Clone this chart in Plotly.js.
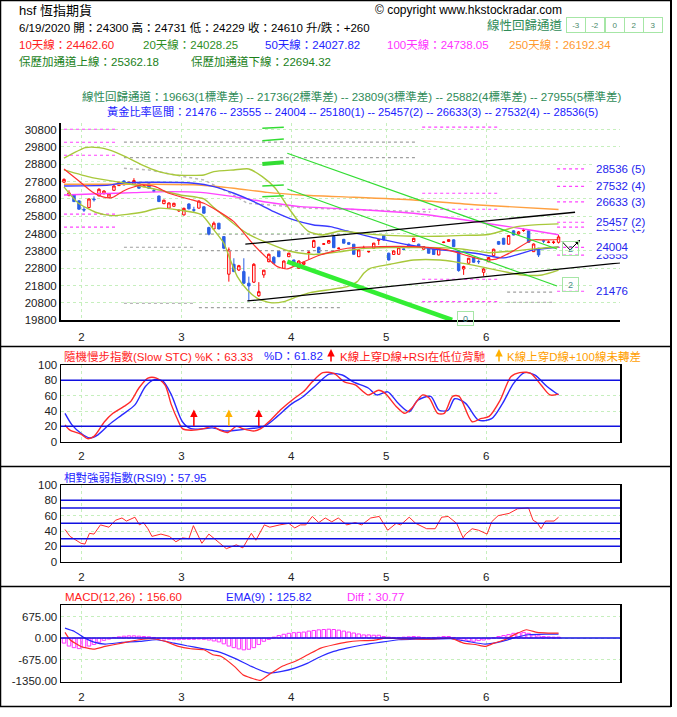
<!DOCTYPE html>
<html><head><meta charset="utf-8">
<script src="https://cdn.plot.ly/plotly-3.0.1.min.js"></script>
<style>html,body{margin:0;padding:0;background:#fff;}#chart{width:677px;height:717px;}</style>
</head><body><div id="chart"></div>
<script>
// ---------------- DATA ----------------
const monthTickPos  = [3.5, 23.5, 45.5, 64.5, 84.5];
const monthTickText = ['2', '3', '4', '5', '6'];

const openP = [27770,27000,27030,26690,26200,26300,26800,26980,27110,26900,
27300,27570,27840,27720,27650,27700,27510,27680,27280,26970,
26530,26270,26380,26110,25880,26510,26180,26270,26350,25150,
25070,25400,24630,22460,23030,22700,22610,21940,22000,21220,
22420,23180,23440,23800,22800,23470,23280,22800,23030,23700,
24010,24010,24190,24250,24630,23940,24470,24280,24190,23470,
23950,23750,23960,24420,24680,23670,23600,23610,23920,24190,
24340,24190,23900,23990,23900,23570,24290,24350,24440,23760,
22760,23090,23430,23200,22570,23180,23530,24340,24530,24190,
24960,24780,24980,24960,23760,23960,24390,24290,24290,24300];
const closeP = [27930,27150,26650,26210,26160,26800,26760,27360,27260,27090,
27550,27760,27610,27760,27860,27420,27550,27420,27250,26650,
26730,26570,26550,26140,26260,26230,26150,26680,25980,24770,
25400,25070,23960,23860,22610,22950,21940,21780,23030,21450,
22690,23610,23090,23470,23220,23670,22950,23220,23150,23730,
24400,23700,24210,24400,23990,23960,24250,24190,23610,23860,
23970,23770,24250,24440,24440,23280,23800,23990,23890,23990,
24530,24050,24050,23670,23600,23960,24310,24450,24050,22670,
22900,23380,23150,23180,22760,23420,23900,24190,24190,24690,
24720,24900,25000,24300,24200,23570,24370,24310,24310,24610];
const highP = [27990,27300,27080,26720,26350,26830,26950,27420,27300,27120,
27600,27800,27880,27800,28000,27720,27600,27700,27400,27000,
26760,26600,26580,26200,26300,26550,26350,26720,26380,25200,
25500,25420,24650,24000,23380,23000,23380,22320,23100,22000,
22700,23650,23500,23850,23250,23700,23300,23260,23180,23800,
24450,24050,24260,24420,24650,24000,24500,24320,24200,23900,
24100,23800,24270,24500,24720,23700,23830,24010,23950,24220,
24560,24220,24080,24020,23930,23990,24350,24480,24470,23800,
22950,23400,23460,23300,22800,23450,23930,24380,24560,24720,
25000,24950,25100,24980,24230,23980,24450,24400,24400,24731];
const lowP = [27720,26950,26620,26180,26050,26280,26650,26950,27050,26880,
27280,27550,27590,27680,27630,27400,27480,27400,27180,26620,
26500,26250,26350,26050,25850,26200,26000,26250,25950,24700,
25050,25050,23900,22030,22580,22650,21900,20900,21950,21150,
22250,23150,23050,23450,22780,23450,22900,22780,23000,23300,
23990,23680,24150,24230,23970,23900,24230,24150,23580,23450,
23900,23700,23940,24150,24400,23250,23570,23580,23850,23970,
24320,24020,23880,23650,23570,23550,24250,24330,24020,22600,
22420,23060,23120,23050,22350,23150,23500,24150,24160,24170,
24700,24750,24900,24280,23740,23450,24250,24250,24200,24229];

// moving averages read at sparse points (day index, value)
const ma10Idx = [0,3,5.6,7.6,9.6,12.3,15.6,18.3,21,25.6,28,31,34,38,40.7,42.7,44.7,47.3,51.3,56.7,63.3,70,76.7,83.3,86.5,89.7,93.7,96.3,99];
const ma10Val = [28532,27840,27222,26935,26877,27320,27610,27511,27130,26744,26553,26070,25492,24147,23380,22897,22762,23090,23570,23957,24050,24050,23860,23330,23330,23761,24435,24435,24462];
const ma20Idx = [0,5.6,12.3,19,23.3,28,30,36.7,45,50,55,60,65,70,75,80,85,90,95,99];
const ma20Val = [28475,28030,27707,27320,27032,26800,26300,24800,23800,23600,23750,23950,24000,24000,23990,23900,23700,23800,23950,24028];
const bbUpIdx = [0,4.3,7,9,12.3,15.6,19,22.3,28,30,34,37,39.7,42.3,45,47,49,51.7,55.3,60,65,70,75,80,85,90.7,95,99];
const bbUpVal = [29150,29761,29761,29630,29242,28763,28377,28185,28185,28377,28475,28532,28088,27420,26265,25492,24915,24724,24955,24800,24700,24650,24650,24700,24750,25204,25320,25362];
const bbLoIdx = [0,1.6,2.9,6.3,9.6,15.6,18.9,22.9,27.5,30,32,33.3,34.7,36.7,38.7,41.3,44,46.7,49.3,56.7,58.7,60,61.3,65.3,70,75.3,78,83.3,91.7,95.7,99];
const bbLoVal = [27500,26935,26553,26034,25838,26034,26265,26167,25900,25013,24245,23282,22320,21550,21070,20818,20876,21164,21395,21740,22030,22513,22800,23030,23282,23282,23184,22897,22416,22416,22694];
const ma50Idx = [0,9,11.3,17.3,26,30,34,38,42,46,50,53.3,56.7,63.3,70,75.3,82.3,88,94,99];
const ma50Val = [27550,27600,27707,27765,27707,27511,27130,26645,26070,25590,25300,25204,24950,24480,24100,23860,23670,23400,23860,24028];
const ma100Idx = [0,7,14,20.7,27.3,34,40.7,47.3,55,70,80,86.7,93.3,99];
const ma100Val = [27032,27100,27165,27222,27180,26935,26610,26357,26250,25976,25600,25300,25013,24738];
const ma250Idx = [0,17,27,34,40.7,47.3,55,70,83,99];
const ma250Val = [27650,27650,27610,27420,27180,27032,26935,26744,26455,26192];

// golden ratio levels
const goldenLevels = [21476,23555,24004,25180,25457,26633,27532,28536];
const goldenLabels = ['21476','23555','24004','25180 (1)','25457 (2)','26633 (3)','27532 (4)','28536 (5)'];
// older dotted levels
const magLevels = [30823,30073,29323,25920,25170,30940,27130,26207,22168,20876];
const magFrom   = [0,0,0,0,0,71.7,71.7,71.7,71.7,71.7];
const magTo     = [10.7,10.7,10.7,10.7,10.7,87.3,87.3,87.3,87.3,87.3];
const grayLevels = [30075,29185,24765,23818,20530,24014,20784,21420,20840];
const grayFrom   = [12,12,27,27,27,12,12,88.7,88.7];
const grayTo     = [70.8,70.8,55.3,55.3,55.3,26,26,97.9,97.9];
const grayDiagIdx = [12,17,23.3,28,33.3,36.7,49.3,73.3];
const grayDiagVal = [28570,28475,28130,27898,27130,26553,26265,26050];
// trend lines
const stubIdx   = [39.7,44];
const stubStart = [30880,30165,28820,27550,26935];
const stubEnd   = [30940,30265,28920,27610,26990];
const greenIdx  = [44.7,98.7];
const green1Val = [29438,23916];
const green2Val = [27378,21780];
const green3Idx = [44.7,77.7];
const green3Val = [23184,19820];
const blackUpIdx = [36.3,102.3];
const blackUpVal = [24195,26034];
const blackLoIdx = [36.7,113.9];
const blackLoVal = [20916,23184];
const projIdx = [99.7,101.3,103.3];
const projVal = [24338,23859,24435];
const boxLabels = [{t:'2',i:101.3,v:21868},{t:'0',i:80.4,v:19906},{t:'2',i:101.3,v:23960}];

// stochastic
const kIdx = [0.2,1.2,3.4,4.7,6,8.1,9.8,12,13.3,15,16.8,18.5,20.2,21.5,22.8,23.7,25.4,28,29.7,31.5,32.8,34.5,35.8,38,39.4,41,43.6,46.2,47.9,49.7,51.8,54,56.1,58.3,60.9,63,64.3,66.5,68.2,69.5,71.8,73.1,74.8,76.1,77.8,79.1,81.7,83.4,85.1,87.3,89.5,91.2,93.4,95.5,97.3,99];
const kVal = [22,15,10,4,7,26,37,46,52,70,83,83,74,48,28,17,15,17,20,14,12,20,17,14,17,26,43,57,65,78,90,89,78,74,61,67,63,46,37,43,61,57,37,37,59,59,26,30,33,54,85,90,89,74,61,62];
const dIdx = [0.2,1.6,3.4,5.1,6.8,9,11.6,14.2,16.3,18.1,19.8,21.5,23.7,25.4,28,29.7,32.3,34.5,37.1,40.1,42.7,45.3,47.9,50.5,53.1,55.7,57.9,60.9,62.6,64.8,66.9,69.1,70.8,73.4,75.1,76.9,78.2,80.4,83,85.6,87.8,90,92.2,94.2,96.7,99];
const dVal = [37,22,11,5,9,22,35,48,72,81,79,61,26,17,17,18,14,15,17,20,33,48,59,74,88,87,78,70,61,65,50,39,54,59,41,41,56,50,28,30,50,76,90,87,72,61];
const stochArrows = [{i:26,c:'#ff0000'},{i:33,c:'#ffb000'},{i:39,c:'#ff0000'}];

// RSI(9)
const rsiIdx = [0.2,1.2,3.4,4.2,5.1,6,7.3,9,10.3,11.6,12.5,14.2,15.1,15.9,16.8,17.6,19.4,21.1,22.4,23.7,25,25.9,27.6,29,31.2,32.5,34.5,35.8,37.5,38.4,40.1,41.2,43.2,45,46.2,47.3,48.4,49.7,51,52.3,53.6,54.9,56.6,58.3,59.6,61.4,63.1,64.8,66.5,67.4,69.1,70.4,72.6,74.3,75.6,76.9,78.6,79.9,80.4,81.7,83,84.7,85.6,86.9,89.1,90.8,93,93.9,94.7,95.5,96.4,98.1,99];
const rsiVal = [42,33,24,23,37,36,48,45,54,57,53,58,48,51,43,33,36,33,26,31,30,47,24,36,24,17,22,18,37,28,48,45,48,50,44,48,48,59,51,57,52,57,48,51,48,57,59,41,50,48,58,50,43,43,58,59,50,31,36,43,41,36,52,60,63,69,70,54,51,43,53,53,58];

// MACD
const macdIdx = [0.2,1.2,3.4,6,8.2,11.6,15.1,17.7,20.3,22.9,25.4,28,29.8,31.5,34.1,35.8,37.5,39.3,41,43.6,46.2,48.8,51.4,54,56.6,59.2,61.8,64.4,67,69.6,72.2,74.8,77.4,80,82.6,84.3,86.1,88.2,90.4,92.6,94.7,96.9,99];
const macdVal = [178,-52,-262,-345,-262,-157,-52,-21,-105,-262,-335,-366,-523,-576,-890,-1152,-1256,-1330,-1152,-890,-733,-523,-314,-209,-126,-84,-73,0,-21,-21,-31,-21,0,-157,-209,-262,-157,-52,126,262,178,157,157];
const emaIdx = [0.2,2.1,4.2,6,8.2,11.6,15.1,18.5,22,24.6,27.2,30.6,34.1,37.5,41,43.6,46.2,48.8,51.4,54,56.6,60,63.5,67,70.4,73.9,77.4,80.8,84.3,87.7,90.4,92.9,96.4,99];
const emaVal = [314,209,0,-126,-188,-136,-105,-52,-157,-241,-314,-419,-628,-890,-1099,-1047,-942,-785,-576,-419,-314,-209,-126,-52,-31,-31,-21,-105,-188,-105,21,105,126,126];
const diffVal = [-157,-250,-300,-330,-300,-250,-200,-130,-70,-30,20,40,60,70,70,60,50,40,20,-10,
-30,-40,-50,-50,-40,-40,-40,-30,-40,-60,-90,-120,-180,-250,-300,-340,-370,-350,-300,-200,
-100,-40,30,80,120,150,170,180,190,220,240,260,270,280,270,250,220,190,160,130,
100,100,90,90,50,30,20,20,30,40,50,40,20,10,20,30,50,50,20,-40,
-70,-90,-100,-80,-60,-30,10,50,80,110,150,170,180,150,100,70,50,40,30,31];

const stochLevels = [80,20];
const rsiLevels = [80,70,50,30,20];

// ---------------- DRAWING ----------------
const W = 677, H = 717;
const FONT = 'Liberation Sans, Noto Sans CJK TC, sans-serif';
const FS = 11.5;
const days = openP.map((_, i) => i);
const px = x => x / W, py = y => 1 - y / H;
const XDOM = [px(61), px(620)];
const XR = [-0.6, 111.3];

function segs(levels, from, to) {
  const x = [], y = [];
  levels.forEach((v, k) => { x.push(from[k], to[k], null); y.push(v, v, null); });
  return {x, y};
}
function line(x, y, color, width, extra) {
  return Object.assign({type:'scatter', mode:'lines', x, y, xaxis:'x', yaxis:'y',
    line:{color, width}, hoverinfo:'skip', showlegend:false}, extra || {});
}

const traces = [];
const g = segs(grayLevels, grayFrom, grayTo);
traces.push(line(g.x, g.y, '', 0, {line:{color:'#a0a0a0', width:1.2, dash:'dot'}}));
traces.push(line(grayDiagIdx, grayDiagVal, '', 0, {line:{color:'#b8b8b8', width:1.5, dash:'dot'}}));
const m = segs(magLevels, magFrom, magTo);
traces.push(line(m.x, m.y, '', 0, {line:{color:'#ff44ff', width:1.2, dash:'dot'}}));
const gl = segs(goldenLevels, goldenLevels.map(() => 98.7), goldenLevels.map(() => 104.7));
traces.push(line(gl.x, gl.y, '', 0, {line:{color:'#ff44ff', width:1.2, dash:'dot'}}));

const sp = c => ({color:c, width:1.4, shape:'spline', smoothing:0.6});
traces.push(line(ma250Idx, ma250Val, '', 0, {line:sp('#ffa040')}));
traces.push(line(ma100Idx, ma100Val, '', 0, {line:sp('#ff44ff')}));
traces.push(line(ma50Idx, ma50Val, '', 0, {line:sp('#3a3aff')}));
traces.push(line(bbUpIdx, bbUpVal, '', 0, {line:sp('#a8c83a')}));
traces.push(line(ma20Idx, ma20Val, '', 0, {line:sp('#a8c83a')}));
traces.push(line(bbLoIdx, bbLoVal, '', 0, {line:sp('#a8c83a')}));
traces.push(line(ma10Idx, ma10Val, '', 0, {line:Object.assign(sp('#ff3030'), {width:1.2})}));

traces.push({type:'candlestick', x:days, open:openP, high:highP, low:lowP, close:closeP,
  xaxis:'x', yaxis:'y', whiskerwidth:0, hoverinfo:'skip', showlegend:false,
  increasing:{line:{color:'#ff0000', width:1}, fillcolor:'#ffffff'},
  decreasing:{line:{color:'#2b5fe6', width:1}, fillcolor:'#2b5fe6'}});

stubStart.forEach((v, k) => traces.push(line(stubIdx, [v, stubEnd[k]], '#33dd33', k === 2 ? 4 : 1.5)));
traces.push(line(greenIdx, green1Val, '#33dd33', 1.2));
traces.push(line(greenIdx, green2Val, '#33dd33', 1.2));
traces.push(line(green3Idx, green3Val, '#33ee33', 4.5));
traces.push(line(blackUpIdx, blackUpVal, '#000000', 1.3));
traces.push(line(blackLoIdx, blackLoVal, '#000000', 1.3));
traces.push(line(projIdx, projVal, '#000000', 1));

traces.push({type:'scatter', mode:'lines', x:dIdx, y:dVal, xaxis:'x2', yaxis:'y2', line:{color:'#2a2aff', width:1.4, shape:'spline', smoothing:0.8}, hoverinfo:'skip', showlegend:false});
traces.push({type:'scatter', mode:'lines', x:kIdx, y:kVal, xaxis:'x2', yaxis:'y2', line:{color:'#ff2a2a', width:1.4, shape:'spline', smoothing:0.8}, hoverinfo:'skip', showlegend:false});
traces.push({type:'scatter', mode:'lines', x:rsiIdx, y:rsiVal, xaxis:'x3', yaxis:'y3', line:{color:'#ff2a2a', width:1}, hoverinfo:'skip', showlegend:false});
traces.push({type:'bar', x:days, y:diffVal, xaxis:'x4', yaxis:'y4', width:0.7,
  marker:{color:'rgba(255,255,255,0)', line:{color:'#ff33ff', width:1}}, hoverinfo:'skip', showlegend:false});
traces.push({type:'scatter', mode:'lines', x:emaIdx, y:emaVal, xaxis:'x4', yaxis:'y4', line:{color:'#2a2aff', width:1.2, shape:'spline', smoothing:0.5}, hoverinfo:'skip', showlegend:false});
traces.push({type:'scatter', mode:'lines', x:macdIdx, y:macdVal, xaxis:'x4', yaxis:'y4', line:{color:'#ff2a2a', width:1.2, shape:'spline', smoothing:0.5}, hoverinfo:'skip', showlegend:false});

const GRID = '#c6efbd';
function xa(anchor, mirror, standoff) {
  return {domain:XDOM, range:XR, anchor, tickmode:'array', tickvals:monthTickPos, ticktext:monthTickText,
    showgrid:true, gridcolor:GRID, griddash:'dot', gridwidth:1, zeroline:false,
    showline:true, linecolor:'#000', linewidth:mirror ? 1.5 : 2, mirror:mirror ? true : false,
    ticks:'', ticklabelstandoff:standoff, tickfont:{size:FS, color:'#222', family:FONT}, fixedrange:true, rangeslider:{visible:false}};
}
function ya(anchor, top, bot, range, vals, text, mirror) {
  return {domain:[py(bot), py(top)], range, anchor, tickmode:'array', tickvals:vals, ticktext:text,
    showgrid:true, gridcolor:GRID, griddash:'dot', gridwidth:1, zeroline:false,
    showline:true, linecolor:'#000', linewidth:mirror ? 1.5 : 2, mirror:mirror ? true : false,
    ticks:'', tickfont:{size:FS, color:'#222', family:FONT}, fixedrange:true};
}
const mainTicks = [19800,20800,21800,22800,23800,24800,25800,26800,27800,28800,29800,30800];
const pctTicks = [0,20,40,60,80,100];

const layout = {
  width:W, height:H, margin:{l:0, r:0, t:0, b:0}, paper_bgcolor:'#fff', plot_bgcolor:'#fff',
  font:{family:FONT, size:FS, color:'#222'}, showlegend:false, bargap:0,
  xaxis:xa('y', false, 5),
  yaxis:ya('x', 122.7, 320.3, [19800, 31200], mainTicks, mainTicks.map(String), false),
  xaxis2:xa('y2', true, 3),
  yaxis2:ya('x2', 365, 441.7, [0, 100], pctTicks, pctTicks.map(String), true),
  xaxis3:xa('y3', true, 4),
  yaxis3:ya('x3', 485, 561.7, [0, 100], pctTicks, pctTicks.map(String), true),
  xaxis4:xa('y4', true, 4),
  yaxis4:ya('x4', 605, 681.7, [-1370, 1040], [675, 0, -675, -1350], ['675.00','0.00','-675.00','-1350.00'], true),
  shapes:[], annotations:[]
};

stochLevels.forEach(v => layout.shapes.push({type:'line', xref:'x2 domain', yref:'y2', x0:0, x1:1, y0:v, y1:v, line:{color:'#1010e0', width:1.5}}));
rsiLevels.forEach(v => layout.shapes.push({type:'line', xref:'x3 domain', yref:'y3', x0:0, x1:1, y0:v, y1:v, line:{color:'#1010e0', width:1.5}}));
layout.shapes.push({type:'line', xref:'x4 domain', yref:'y4', x0:0, x1:1, y0:0, y1:0, line:{color:'#1010e0', width:1.5}});

const fr = (x0, y0, x1, y1, w) => layout.shapes.push({type:'line', xref:'paper', yref:'paper', x0:px(x0), x1:px(x1), y0:py(y0), y1:py(y1), line:{color:'#000', width:w}});
fr(0.5, 0, 0.5, 707, 1.5); fr(0, 0.5, 672, 0.5, 1.5); fr(671, 0, 671, 707, 2);
fr(0, 346.5, 671, 346.5, 1.5); fr(0, 466.5, 671, 466.5, 1.5); fr(0, 586.5, 671, 586.5, 1.5); fr(0, 706.5, 671, 706.5, 1.5);

const A = layout.annotations;
function txt(text, x, y, color, size, anchor) {
  A.push({xref:'paper', yref:'paper', x:px(x), y:py(y), text, showarrow:false, xanchor:anchor || 'left', yanchor:'middle',
    font:{family:FONT, size:size || FS, color:color || '#000'}});
}
txt('hsf 恆指期貨', 17, 10, '#000', 13);
txt('© copyright www.hkstockradar.com', 373, 10, '#000', 12);
txt('6/19/2020 開：24300 高：24731 低：24229 收：24610 升/跌：+260', 17, 27, '#000', FS);
txt('線性回歸通道', 485, 26, '#2e8b57', 12.5);
['-3','-2','0','2','3'].forEach((t, k) => A.push({xref:'paper', yref:'paper', x:px(576 + k * 19.3), y:py(25), text:t, showarrow:false,
  xanchor:'center', yanchor:'middle', width:16, height:12, bordercolor:'#a6e6a6', borderwidth:1, borderpad:1,
  font:{family:FONT, size:8, color:'#4a8a6a'}}));
txt('10天線：24462.60', 17, 44, '#ff2020', FS);
txt('20天線：24028.25', 141, 44, '#2f8f1f', FS);
txt('50天線：24027.82', 263, 44, '#2424ff', FS);
txt('100天線：24738.05', 385, 44, '#ff33ff', FS);
txt('250天線：26192.34', 507, 44, '#ff9a30', FS);
txt('保歷加通道上線：25362.18', 17, 61, '#1a7f1a', FS);
txt('保歷加通道下線：22694.32', 189, 61, '#1a7f1a', FS);
txt('線性回歸通道：19663(1標準差) -- 21736(2標準差) -- 23809(3標準差) -- 25882(4標準差) -- 27955(5標準差)', 80, 96, '#2e8b57', FS);
txt('黃金比率區間：21476 -- 23555 -- 24004 -- 25180(1) -- 25457(2) -- 26633(3) -- 27532(4) -- 28536(5)', 105, 112, '#1a1aff', 11.2);

goldenLevels.forEach((v, k) => A.push({xref:'x', yref:'y', x:106.1, y:v, text:goldenLabels[k], showarrow:false,
  xanchor:'left', yanchor:'middle', bgcolor:'#ffffff', font:{family:FONT, size:FS, color:'#2424ee'}}));
A.push({xref:'x', yref:'y', axref:'x', ayref:'y', x:projIdx[2], y:projVal[2], ax:projIdx[1], ay:projVal[1],
  text:'', showarrow:true, arrowhead:2, arrowsize:1, arrowwidth:1, arrowcolor:'#000'});
boxLabels.forEach(b => A.push({xref:'x', yref:'y', x:b.i, y:b.v, text:b.t, showarrow:false, xanchor:'center', yanchor:'middle',
  width:13, height:11, bordercolor:'#a6e6a6', borderwidth:1, borderpad:1, font:{family:FONT, size:9, color:'#4a8a8a'}}));

txt('隨機慢步指數(Slow STC) %K：63.33', 62, 356, '#ff1a1a', FS);
txt('%D：61.82', 262, 356, '#2424ff', FS);
txt('K線上穿D線+RSI在低位背馳', 338, 356, '#ff1a1a', FS);
txt('K線上穿D線+100線未轉差', 505, 356, '#ffa000', FS);
[[331, '#ff0000'], [499, '#ffb000']].forEach(a => A.push({xref:'paper', yref:'paper', x:px(a[0]), y:py(349), ax:0, ay:14,
  text:'', showarrow:true, arrowhead:2, arrowsize:1, arrowwidth:1.5, arrowcolor:a[1]}));
stochArrows.forEach(a => A.push({xref:'x2', yref:'y2', x:a.i, y:42, ax:0, ay:18, text:'', showarrow:true,
  arrowhead:2, arrowsize:1, arrowwidth:1.5, arrowcolor:a.c}));
txt('相對強弱指數(RSI9)：57.95', 62, 477, '#2424ff', FS);
txt('MACD(12,26)：156.60', 63, 597, '#ff1a1a', FS);
txt('EMA(9)：125.82', 224, 597, '#2424ff', FS);
txt('Diff：30.77', 345, 597, '#ff33ff', FS);

Plotly.newPlot('chart', traces, layout, {staticPlot:true, displayModeBar:false});
</script></body></html>
